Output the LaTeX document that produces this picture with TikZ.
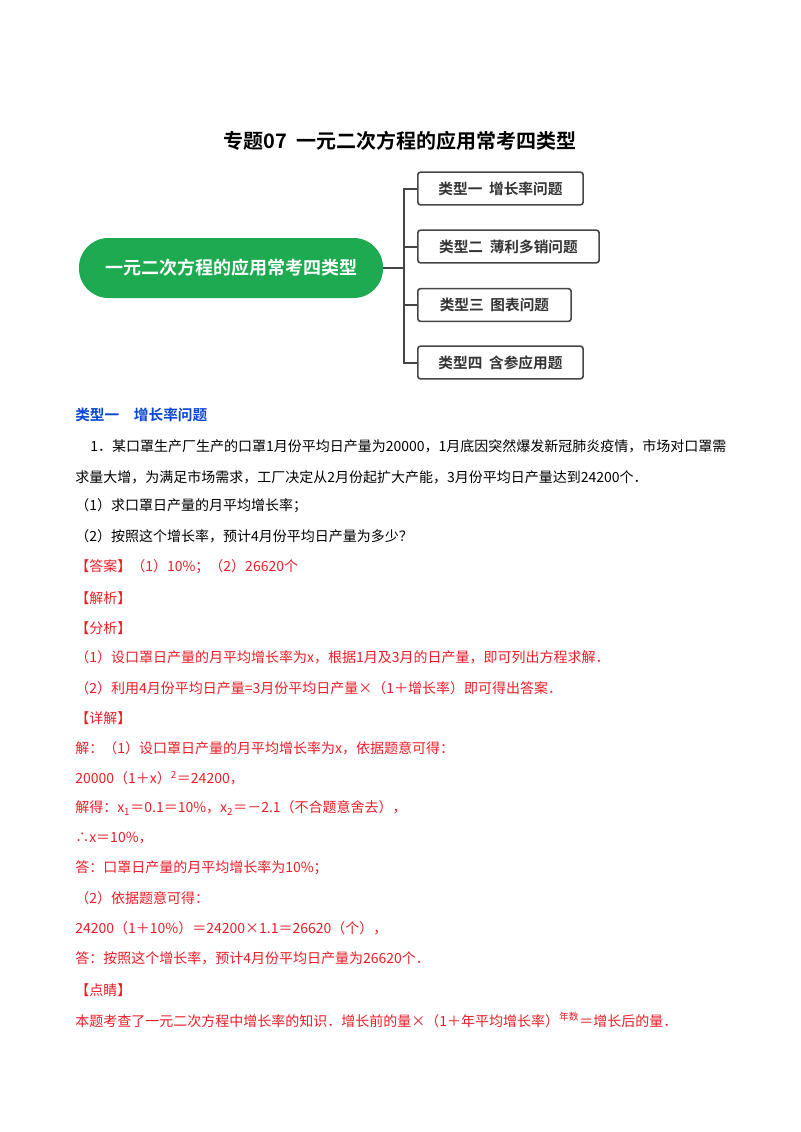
\documentclass[tikz,border=0pt]{standalone}
\usepackage{fontspec}
\setmainfont{Noto Sans CJK SC}
\newfontfamily\cjkb{Noto Sans CJK SC Bold}
\definecolor{rd}{RGB}{235,30,40}
\definecolor{bl}{RGB}{10,70,210}
\definecolor{gr}{RGB}{30,170,80}
\definecolor{ln}{RGB}{70,70,70}
\begin{document}
\begin{tikzpicture}[x=0.75pt,y=-0.75pt,
  txt/.style={anchor=west,inner sep=0,font=\fontsize{10.5pt}{12pt}\selectfont},
  rtxt/.style={txt,text=rd},
  tbox/.style={draw=ln,line width=1.2pt,rounded corners=2pt,anchor=west,minimum height=24.5pt,font=\cjkb\fontsize{11pt}{12pt}\selectfont,text=black!80,inner xsep=8pt},
  conn/.style={draw=ln,line width=1.5pt}]
\useasboundingbox (0,0) rectangle (800,1132);
\node[inner sep=0,font=\cjkb\fontsize{15pt}{17pt}\selectfont] (title) at (400,141) {专题07\ \ 一元二次方程的应用常考四类型};
\node[fill=gr,rounded corners=22pt,minimum width=228pt,minimum height=45pt,text=white,font=\cjkb\fontsize{13.5pt}{16pt}\selectfont,inner sep=0] (root) at (231,268) {一元二次方程的应用常考四类型};
\node[tbox,minimum width=124pt] (b1) at (417,188.5) {类型一\ \ 增长率问题};
\node[tbox,minimum width=136pt] (b2) at (417,246.5) {类型二\ \ 薄利多销问题};
\node[tbox,minimum width=115pt] (b3) at (417,305) {类型三\ \ 图表问题};
\node[tbox,minimum width=124pt] (b4) at (417,362.5) {类型四\ \ 含参应用题};
\coordinate (j) at (404,268);
\draw[conn] (root.east) -- (j);
\draw[conn] (b1.west) -| (j) |- (b4.west);
\draw[conn] (j) |- (b2.west);
\draw[conn] (j) |- (b3.west);
\node[txt,text=bl,font=\cjkb\fontsize{11pt}{12pt}\selectfont] (h) at (75,415) {类型一\quad 增长率问题};
\node[txt] (l1) at (90,446) {1．某口罩生产厂生产的口罩1月份平均日产量为20000，1月底因突然爆发新冠肺炎疫情，市场对口罩需};
\node[txt] (l2) at (75,477) {求量大增，为满足市场需求，工厂决定从2月份起扩大产能，3月份平均日产量达到24200个．};
\node[txt] (l3) at (75,506) {（1）求口罩日产量的月平均增长率；};
\node[txt] (l4) at (75,536) {（2）按照这个增长率，预计4月份平均日产量为多少？};
\node[rtxt] (l5) at (75,567) {【答案】（1）10\%；（2）26620个};
\node[rtxt] (l6) at (75,598) {【解析】};
\node[rtxt] (l7) at (75,628) {【分析】};
\node[rtxt] (l8) at (75,657) {（1）设口罩日产量的月平均增长率为x，根据1月及3月的日产量，即可列出方程求解．};
\node[rtxt] (l9) at (75,688) {（2）利用4月份平均日产量=3月份平均日产量×（1＋增长率）即可得出答案．};
\node[rtxt] (l10) at (75,718) {【详解】};
\node[rtxt] (l11) at (75,748) {解：（1）设口罩日产量的月平均增长率为x，依据题意可得：};
\node[rtxt] (l12) at (75,778) {20000（1＋x）\textsuperscript{2}＝24200，};
\node[rtxt] (l13) at (75,808) {解得：x\textsubscript{1}＝0.1＝10\%，x\textsubscript{2}＝－2.1（不合题意舍去），};
\node[rtxt] (l14) at (75,838) {∴x＝10\%，};
\node[rtxt] (l15) at (75,868) {答：口罩日产量的月平均增长率为10\%；};
\node[rtxt] (l16) at (75,898) {（2）依据题意可得：};
\node[rtxt] (l17) at (75,928) {24200（1＋10\%）＝24200×1.1＝26620（个），};
\node[rtxt] (l18) at (75,958) {答：按照这个增长率，预计4月份平均日产量为26620个．};
\node[rtxt] (l19) at (75,990) {【点睛】};
\node[rtxt] (l20) at (75,1020) {本题考查了一元二次方程中增长率的知识．增长前的量×（1＋年平均增长率）\textsuperscript{年数}＝增长后的量．};
\end{tikzpicture}
\end{document}
